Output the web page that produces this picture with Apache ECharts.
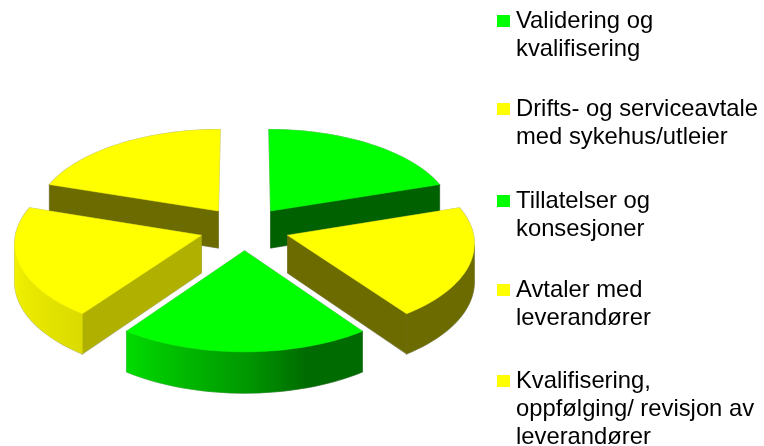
<!DOCTYPE html>
<html>
<head>
    <meta charset="UTF-8">
    <title>Kakediagram</title>
    <script src="https://cdn.jsdelivr.net/npm/echarts@6/dist/echarts.min.js"></script>
    <style>
        html, body { margin: 0; padding: 0; background: #fff; }
        #chart { width: 764px; height: 446px; }
    </style>
</head>
<body>
    <div id="chart"></div>
    <script type="text/javascript">
        var categories = [
            'Validering og\nkvalifisering',
            'Drifts- og serviceavtale\nmed sykehus/utleier',
            'Tillatelser og\nkonsesjoner',
            'Avtaler med\nleverandører',
            'Kvalifisering,\noppfølging/ revisjon av\nleverandører'
        ];
        var values = [20, 20, 20, 20, 20];
        var sliceColors = ['#00ff00', '#ffff00', '#00ff00', '#ffff00', '#ffff00'];
        var legendTops = [9, 97, 189, 278, 369];
        // brightness of the flat cut wall of each slice
        var cutShade = [0.38, 0.42, 0.42, 0.69, 0.42];
        // brightness of the rim, by compass angle
        var rimAngles = [0, 150, 162, 180, 216, 250, 288, 360];
        var rimShades = [0.42, 0.42, 0.42, 0.6, 0.86, 0.93, 1, 1];

        // projection of the tilted pie
        var CX = 244.5, CY = 228.5, RADIUS = 185, EXPLODE = 45, TILT = 0.487, VIEW = 2500, DEPTH = 37.5;

        var total = values.reduce(function (a, b) { return a + b; }, 0);

        function project(gx, gy) {
            var p = VIEW / (VIEW - gy);
            return { x: CX + gx * p, y: CY + TILT * gy * p, p: p };
        }

        function shade(hex, k) {
            var n = parseInt(hex.slice(1), 16);
            var r = Math.round((n >> 16 & 255) * k), g = Math.round((n >> 8 & 255) * k), b = Math.round((n & 255) * k);
            return 'rgb(' + r + ',' + g + ',' + b + ')';
        }

        function rimShade(deg) {
            for (var i = 1; i < rimAngles.length; i++) {
                if (deg <= rimAngles[i]) {
                    var t = (deg - rimAngles[i - 1]) / (rimAngles[i] - rimAngles[i - 1]);
                    return rimShades[i - 1] + t * (rimShades[i] - rimShades[i - 1]);
                }
            }
            return 1;
        }

        function wall(a, b) {
            return [[a.x, a.y], [b.x, b.y], [b.x, b.y + DEPTH * b.p], [a.x, a.y + DEPTH * a.p]];
        }

        function poly(points, style) {
            return { type: 'polygon', shape: { points: points }, style: style };
        }

        function buildSlice(index, startDeg, sweepDeg) {
            var mid = (startDeg + sweepDeg / 2) * Math.PI / 180;
            var ox = EXPLODE * Math.sin(mid), oy = -EXPLODE * Math.cos(mid);
            var color = sliceColors[index];
            var apex = project(ox, oy);
            var rim = [];
            var steps = 36;
            for (var i = 0; i <= steps; i++) {
                var deg = startDeg + sweepDeg * i / steps;
                var r = deg * Math.PI / 180;
                var pt = project(ox + RADIUS * Math.sin(r), oy - RADIUS * Math.cos(r));
                pt.deg = deg;
                rim.push(pt);
            }

            var faces = [];
            var cutFill = shade(color, cutShade[index]);
            // cut walls, only those clearly turned to the viewer
            if (rim[0].x < apex.x - 3) {
                faces.push({ points: wall(apex, rim[0]), fill: cutFill });
            }
            if (apex.x < rim[steps].x - 3) {
                faces.push({ points: wall(rim[steps], apex), fill: cutFill });
            }

            // the rim is one polygon with a left to right gradient
            var visible = rim.filter(function (pt, j) {
                return (j < steps && rim[j + 1].x < pt.x) || (j > 0 && pt.x < rim[j - 1].x);
            });
            if (visible.length > 1) {
                var front = [], back = [];
                visible.forEach(function (pt) {
                    front.push([pt.x, pt.y]);
                    back.unshift([pt.x, pt.y + DEPTH * pt.p]);
                });
                var x0 = visible[visible.length - 1].x, x1 = visible[0].x;
                var stops = visible.slice().reverse().map(function (pt) {
                    return { offset: (pt.x - x0) / (x1 - x0), color: shade(color, rimShade(pt.deg)) };
                });
                faces.push({
                    points: front.concat(back),
                    fill: { type: 'linear', x: x0, y: 0, x2: x1, y2: 0, global: true, colorStops: stops }
                });
            }

            var topPoints = [[apex.x, apex.y]];
            rim.forEach(function (pt) { topPoints.push([pt.x, pt.y]); });
            faces.push({ points: topPoints, fill: color });
            return faces;
        }

        function sliceRenderer(index, startDeg, sweepDeg) {
            return function () {
                var faces = buildSlice(index, startDeg, sweepDeg);
                var children = [];
                // soft grey edge underneath
                faces.forEach(function (f) {
                    children.push(poly(f.points, { fill: 'none', stroke: 'rgba(110,110,110,0.55)', lineWidth: 1.1 }));
                });
                faces.forEach(function (f) {
                    children.push(poly(f.points, { fill: f.fill, stroke: f.fill, lineWidth: 0.5 }));
                });
                return { type: 'group', children: children };
            };
        }

        var series = [];
        var legends = [];
        var acc = 0;
        categories.forEach(function (name, i) {
            var sweep = values[i] / total * 360;
            var start = acc / total * 360;
            acc += values[i];
            var midDeg = (start + sweep / 2) * Math.PI / 180;
            series.push({
                type: 'custom',
                name: name,
                coordinateSystem: 'none',
                // back slices first
                z: 10 - Math.round(4 * Math.cos(midDeg)),
                itemStyle: { color: sliceColors[i] },
                renderItem: sliceRenderer(i, start, sweep),
                data: [[values[i]]]
            });
            legends.push({
                data: [name],
                left: 492,
                top: legendTops[i],
                padding: 0,
                itemWidth: 0,
                itemHeight: 0,
                itemGap: 0,
                selectedMode: false,
                formatter: function (n) {
                    return n.split('\n').map(function (line, k) {
                        return (k === 0 ? '{m|}' : '{i|}') + '{g|}{t|' + line + '}';
                    }).join('\n');
                },
                textStyle: {
                    rich: {
                        m: { width: 13, height: 12, backgroundColor: sliceColors[i] },
                        i: { width: 13, height: 12 },
                        g: { width: 6 },
                        t: { fontFamily: 'Liberation Sans', fontSize: 23.8, lineHeight: 28, color: '#000' }
                    }
                }
            });
        });

        var chart = echarts.init(document.getElementById('chart'));
        chart.setOption({
            animation: false,
            backgroundColor: '#fff',
            tooltip: { show: false },
            legend: legends,
            series: series
        });
    </script>
</body>
</html>
